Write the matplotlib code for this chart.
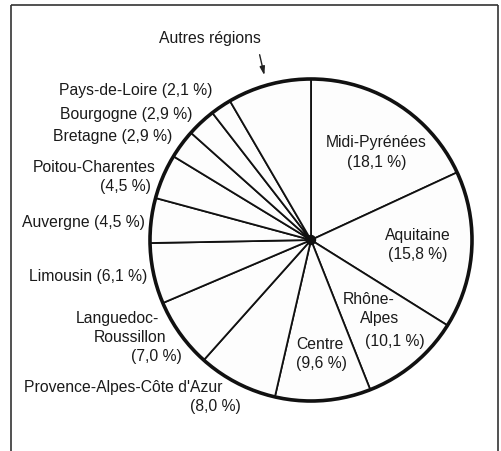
import matplotlib
matplotlib.use("Agg")
import matplotlib.pyplot as plt
from matplotlib.patches import Circle

regions = ["Midi-Pyrénées", "Aquitaine", "Rhône-Alpes", "Centre",
           "Provence-Alpes-Côte d'Azur", "Languedoc-Roussillon", "Limousin",
           "Auvergne", "Poitou-Charentes", "Bretagne", "Bourgogne",
           "Pays-de-Loire", "Autres régions"]
shares = [18.1, 15.8, 10.1, 9.6, 8.0, 7.0, 6.1, 4.5, 4.5, 2.9, 2.9, 2.1, 8.4]


def pct(v):
    return "({} %)".format(f"{v:.1f}".replace(".", ","))


W, H = 502, 452
fig = plt.figure(figsize=(W / 100, H / 100), dpi=100)
fig.patch.set_facecolor("white")
ax = fig.add_axes([0, 0, 1, 1])
ax.set_xlim(0, W)
ax.set_ylim(0, H)
ax.set_aspect("equal")
ax.axis("off")

cx, cy, R = 311, H - 241, 161
ax.pie(shares, startangle=90, counterclock=False, radius=R, center=(cx, cy),
       colors=["#fdfdfd"] * len(shares),
       wedgeprops=dict(edgecolor="#111111", linewidth=1.3), frame=True)
ax.set_xlim(0, W)
ax.set_ylim(0, H)
ax.axis("off")
ax.add_patch(Circle((cx, cy), R, fill=False, edgecolor="#111111", linewidth=2.6, zorder=5))
ax.add_patch(Circle((cx, cy), 4.5, color="#111111", zorder=6))

# frame
fc = "#333333"
ax.plot([11, 498], [H - 6, H - 6], color=fc, lw=1.2, solid_capstyle="butt")
ax.plot([11, 11], [H - 6, 0], color=fc, lw=1.2, solid_capstyle="butt")
ax.plot([498, 498], [H - 6, 0], color=fc, lw=1.2, solid_capstyle="butt")

fs = 11.3
tkw = dict(fontsize=fs, family=["Liberation Sans", "DejaVu Sans"], color="#1a1a1a",
           ha="center", va="center")


def txt(x, y, s):
    ax.text(x, H - y, s, **tkw)


lab = dict(zip(regions, shares))
# inside labels
txt(376, 142, "Midi-Pyrénées"); txt(377, 162, pct(lab["Midi-Pyrénées"]))
txt(418, 236, "Aquitaine"); txt(418, 255, pct(lab["Aquitaine"]))
txt(369, 300, "Rhône-"); txt(380, 319, "Alpes"); txt(395, 342, pct(lab["Rhône-Alpes"]))
txt(320, 345, "Centre"); txt(321, 364, pct(lab["Centre"]))
# outside labels
txt(210, 38, "Autres régions")
txt(136, 91, "Pays-de-Loire " + pct(lab["Pays-de-Loire"]))
txt(126, 114, "Bourgogne " + pct(lab["Bourgogne"]))
txt(113, 137, "Bretagne " + pct(lab["Bretagne"]))
txt(94, 167, "Poitou-Charentes"); txt(125, 186, pct(lab["Poitou-Charentes"]))
txt(83, 223, "Auvergne " + pct(lab["Auvergne"]))
txt(88, 277, "Limousin " + pct(lab["Limousin"]))
txt(117, 319, "Languedoc-"); txt(130, 338, "Roussillon"); txt(156, 357, pct(lab["Languedoc-Roussillon"]))
txt(123, 388, "Provence-Alpes-Côte d'Azur"); txt(215, 407, pct(lab["Provence-Alpes-Côte d'Azur"]))

ax.annotate("", xy=(265, H - 79), xytext=(259, H - 53),
            arrowprops=dict(arrowstyle="-|>,head_length=0.5,head_width=0.15",
                            color="#222222", lw=1.0))

fig.savefig("out.png", dpi=100, facecolor="white")
